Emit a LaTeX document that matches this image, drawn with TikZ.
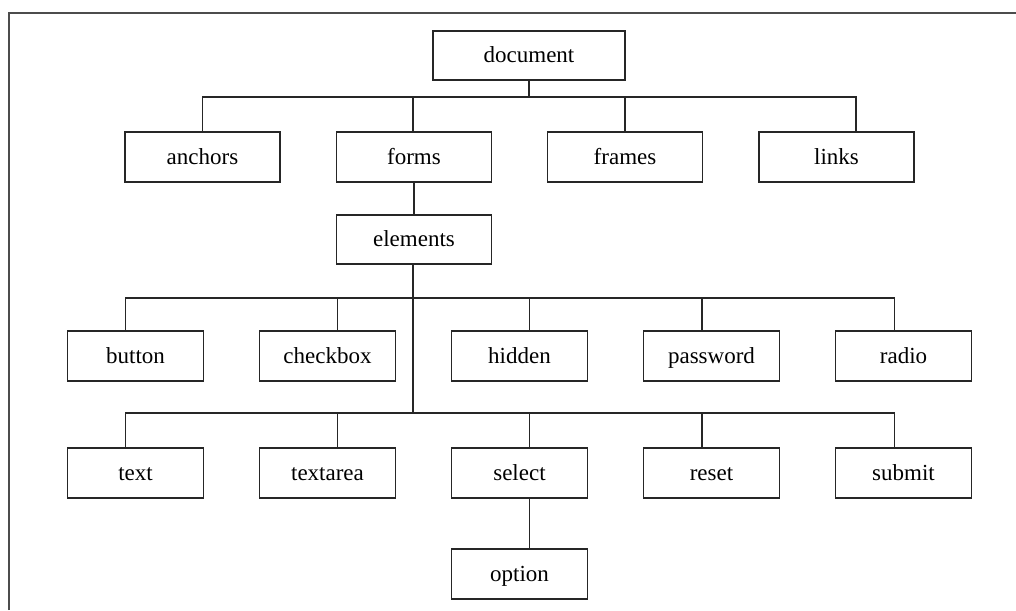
\documentclass[tikz,border=0pt]{standalone}
\usepackage{fontspec}
\setmainfont{Liberation Serif}
\usepackage{xcolor}
\usepackage{tikz}

\begin{document}
\begin{tikzpicture}[x=1pt,y=-1pt,
    box/.style={draw=black!85,line width=1.3pt,minimum height=50pt,inner sep=0pt,
                text height=17pt,text depth=3pt,
                font=\fontsize{23}{26}\selectfont},
    big/.style={box,minimum width=155pt},
    small/.style={box,minimum width=136pt},
    conn/.style={black!85,line width=1.3pt}]
    \useasboundingbox (0,0) rectangle (1016,610);
    % outer frame, only top and left edges show
    \draw[gray!60!black,line width=2pt] (9,610) -- (9,13) -- (1016,13);

    % top of the tree
    \node[box,minimum width=192pt,minimum height=49pt] (document) at (529,55.5) {document};
    \node[big] (anchors) at (202.5,157) {anchors};
    \node[big] (forms)   at (414,157)   {forms};
    \node[big] (frames)  at (625,157)   {frames};
    \node[big] (links)   at (836.5,157) {links};
    \node[big,minimum height=49pt] (elements) at (414,239.5) {elements};

    % form element types, two rows
    \node[small] (button)   at (135.5,356) {button};
    \node[small] (checkbox) at (327.5,356) {checkbox};
    \node[small] (hidden)   at (519.5,356) {hidden};
    \node[small] (password) at (711.5,356) {password};
    \node[small] (radio)    at (903.5,356) {radio};
    \node[small] (text)     at (135.5,473) {text};
    \node[small] (textarea) at (327.5,473) {textarea};
    \node[small] (select)   at (519.5,473) {select};
    \node[small] (reset)    at (711.5,473) {reset};
    \node[small] (submit)   at (903.5,473) {submit};
    \node[small] (option)   at (519.5,574) {option};

    % document -> second level
    \draw[conn] (document.south) -- (529,97);
    \draw[conn] (202.5,97) -- (856,97);
    \foreach \n/\d in {anchors/0,forms/-1,frames/0,links/19.5}
        \draw[conn] ([xshift=\d pt]\n.north) -- ++(0,-35);

    % forms -> elements -> inputs
    \draw[conn] (forms.south) -- (elements.north);
    \draw[conn] ([xshift=-1pt]elements.south) -- (413,413);
    \draw[conn] (125.5,298) -- (894.5,298);
    \draw[conn] (125.5,413) -- (894.5,413);
    \foreach \n/\d in {button/-10,checkbox/10,hidden/10,password/-9.5,radio/-9}
        \draw[conn] ([xshift=\d pt]\n.north) -- ++(0,-33);
    \foreach \n/\d in {text/-10,textarea/10,select/10,reset/-9.5,submit/-9}
        \draw[conn] ([xshift=\d pt]\n.north) -- ++(0,-35);

    % select -> option
    \draw[conn] ([xshift=10pt]select.south) -- ([xshift=10pt]option.north);
\end{tikzpicture}
\end{document}
